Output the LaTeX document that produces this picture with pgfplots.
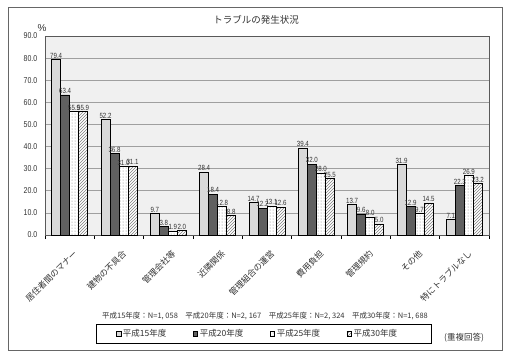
\documentclass[border=0pt]{standalone}
\usepackage{fontspec}
\setmainfont{Liberation Sans}
\newfontfamily\narrow[FakeStretch=0.82]{Liberation Sans}
\newfontfamily\jp{Noto Sans CJK JP}
\usepackage{pgfplots}
\pgfplotsset{compat=1.18}
\usetikzlibrary{patterns}
\definecolor{plotbg}{HTML}{F0F0F0}
\definecolor{sone}{HTML}{D9D9D9}
\definecolor{stwo}{HTML}{606060}
\definecolor{txt}{HTML}{333333}
\begin{document}
\begin{tikzpicture}[x=1pt,y=1pt]
\useasboundingbox (0,0) rectangle (512,357);
\draw[gray!80!black, line width=0.8pt] (8,7) rectangle (502,350);
\node[font=\jp\fontsize{9.5}{10}\selectfont, text=txt] at (256,337) {トラブルの発生状況};
\node[font=\fontsize{10}{10}\selectfont, text=txt] at (42,329) {\%};
\node[font=\jp\fontsize{7.5}{8}\selectfont, text=txt] at (265,41) {平成15年度：N=1, 058\quad 平成20年度：N=2, 167\quad 平成25年度：N=2, 324\quad 平成30年度：N=1, 688};
\node[font=\jp\fontsize{8.5}{9}\selectfont, text=txt] at (464,19) {(重複回答)};
\begin{axis}[
  at={(45pt,122pt)}, anchor=south west,
  scale only axis, width=444pt, height=199pt,
  xmin=0.5, xmax=9.5, ymin=0, ymax=90,
  ybar=0pt, bar width=9pt,
  axis background/.style={fill=plotbg},
  axis line style={gray!70!black, line width=0.6pt},
  ytick={0,10,...,90},
  ymajorgrids, grid style={gray!75, line width=0.6pt},
  ytick style={draw=none},
  y tick label style={font=\narrow\fontsize{8.5}{8.5}\selectfont, text=txt, /pgf/number format/.cd, fixed, fixed zerofill, precision=1, assume math mode=true},
  xtick={1,...,9},
  xticklabels={居住者間のマナー,建物の不具合,管理会社等,近隣関係,管理組合の運営,費用負担,管理規約,その他,特にトラブルなし},
  x tick label style={font=\jp\fontsize{8.5}{9}\selectfont, text=txt, rotate=45, anchor=north east, inner sep=0pt, xshift=-5pt, yshift=-9pt},
  major x tick style={draw=none},
  minor xtick={0.5,1.5,...,9.5},
  minor x tick style={black, line width=0.6pt},
  minor tick length=4pt,
  tick align=outside,
  xtick pos=bottom, ytick pos=left,
  nodes near coords={\pgfmathprintnumber[fixed,fixed zerofill,precision=1,assume math mode=true]{\pgfplotspointmeta}},
  every node near coord/.append style={font=\narrow\fontsize{7.5}{7.5}\selectfont, text=txt, inner sep=1pt},
  legend columns=4,
  legend style={at={(0.493,-0.497)}, anchor=center, draw=black, line width=0.6pt,
    font=\jp\fontsize{8.5}{9}\selectfont, text=txt, inner xsep=20pt, inner ysep=3pt,
    /tikz/every even column/.append style={column sep=12pt}},
  every axis plot post/.append style={legend image code/.code={\draw[##1, draw=black, line width=0.4pt] (0pt,-2pt) rectangle (4.5pt,2.5pt);}},
]
\addplot[draw=black, line width=0.5pt, fill=sone] coordinates {(1,79.4) (2,52.2) (3,9.7) (4,28.4) (5,14.7) (6,39.4) (7,13.7) (8,31.9) (9,7.1)};
\addplot[draw=black, line width=0.5pt, fill=stwo] coordinates {(1,63.4) (2,36.8) (3,3.8) (4,18.4) (5,12.2) (6,32.0) (7,9.6) (8,12.9) (9,22.3)};
\addplot[draw=black, line width=0.5pt, fill=white, postaction={pattern=dots, pattern color=gray}] coordinates {(1,55.9) (2,31.0) (3,1.9) (4,12.8) (5,13.1) (6,28.0) (7,8.0) (8,9.7) (9,26.9)};
\addplot[draw=black, line width=0.5pt, fill=white, postaction={pattern=north east lines, pattern color=gray}] coordinates {(1,55.9) (2,31.1) (3,2.0) (4,8.8) (5,12.6) (6,25.5) (7,5.0) (8,14.5) (9,23.2)};
\legend{\makebox[56pt][l]{平成15年度},\makebox[56pt][l]{平成20年度},\makebox[56pt][l]{平成25年度},\makebox[56pt][l]{平成30年度}}
\end{axis}
\end{tikzpicture}
\end{document}
